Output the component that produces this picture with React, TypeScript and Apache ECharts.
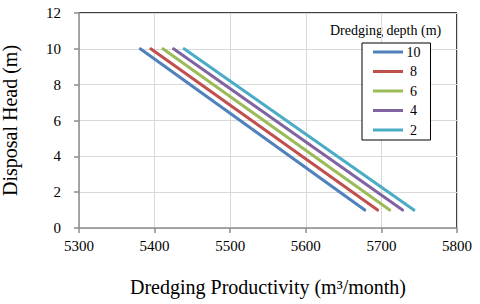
import React, { useEffect, useRef } from "react";
import * as echarts from "echarts";

const depths = ["10", "8", "6", "4", "2"];
const colors = ["#4F81BD", "#C0504D", "#9BBB59", "#8064A2", "#4BACC6"];
// [productivity, head] start (head 10) and end (head ~1)
const startProd = [5381, 5395, 5411, 5425, 5439];
const endProd = [5678, 5695, 5711, 5728, 5743];
const startHead = [10, 10, 10, 10, 10];
const endHead = [1, 1, 1, 1, 1];

const FONT = "Liberation Serif";

export default function App() {
  const ref = useRef<HTMLDivElement>(null);
  useEffect(() => {
    if (!ref.current) return;
    const chart = echarts.init(ref.current, undefined, { renderer: "svg" });
    const series: any[] = depths.map((d, i) => ({
      name: d,
      type: "line",
      data: [
        [startProd[i], startHead[i]],
        [endProd[i], endHead[i]],
      ],
      showSymbol: false,
      symbol: "none",
      lineStyle: { color: colors[i], width: 3, cap: "round" },
      itemStyle: { color: colors[i] },
    }));
    chart.setOption({
      animation: false,
      backgroundColor: "#ffffff",
      textStyle: { fontFamily: FONT },
      grid: { left: 79, right: 23, top: 13, bottom: 76, show: false, containLabel: false, outerBoundsMode: "none" },
      xAxis: {
        type: "value",
        min: 5300,
        max: 5800,
        interval: 100,
        name: "Dredging Productivity (m³/month)",
        nameLocation: "middle",
        nameGap: 49,
        nameTextStyle: { fontFamily: FONT, fontSize: 20, color: "#000" },
        axisLine: { show: true, lineStyle: { color: "#8c8c8c", width: 1.5 } },
        axisTick: { show: true, length: 5, lineStyle: { color: "#8c8c8c", width: 1.5 } },
        axisLabel: { fontFamily: FONT, fontSize: 15, color: "#000", margin: 10, formatter: (v: number) => String(v) },
        splitLine: { show: true, lineStyle: { color: "#d9d9d9", width: 1 } },
      },
      yAxis: {
        type: "value",
        min: 0,
        max: 12,
        interval: 2,
        name: "Disposal Head (m)",
        nameLocation: "middle",
        nameGap: 59,
        nameTextStyle: { fontFamily: FONT, fontSize: 20, color: "#000" },
        axisLine: { show: true, lineStyle: { color: "#8c8c8c", width: 1.5 } },
        axisTick: { show: true, length: 5, lineStyle: { color: "#8c8c8c", width: 1.5 } },
        axisLabel: { fontFamily: FONT, fontSize: 15, color: "#000", margin: 18, formatter: (v: number) => String(v) },
        splitLine: { show: true, lineStyle: { color: "#d9d9d9", width: 1 } },
      },
      legend: {
        orient: "vertical",
        left: 362,
        top: 43,
        padding: [2, 10, 3, 11],
        itemGap: 5.5,
        itemWidth: 30,
        itemHeight: 14,
        borderColor: "#000",
        borderWidth: 1,
        backgroundColor: "#fff",
        icon: "path://M0,0 L30,0 L30,3 L0,3 Z",
        data: depths,
        formatter: (n: string) => `{a|${n}}`,
        textStyle: {
          fontFamily: FONT,
          fontSize: 14,
          color: "#000",
          rich: { a: { width: 11, align: "center", fontFamily: FONT, fontSize: 14, color: "#000" } },
        },
      },
      graphic: [
        {
          type: "text",
          left: 330,
          top: 23,
          style: { text: "Dredging depth (m)", fontFamily: FONT, fontSize: 14, fill: "#000" },
        },
        {
          type: "line",
          shape: { x1: 79, y1: 13, x2: 457, y2: 13 },
          style: { stroke: "#000", lineWidth: 1.5 },
        },
        {
          type: "line",
          shape: { x1: 457, y1: 13, x2: 457, y2: 228 },
          style: { stroke: "#000", lineWidth: 1.5 },
        },
      ],
      series,
    });
    return () => chart.dispose();
  }, []);
  return <div ref={ref} style={{ width: 480, height: 304, position: "absolute", left: 0, top: 0 }} />;
}
